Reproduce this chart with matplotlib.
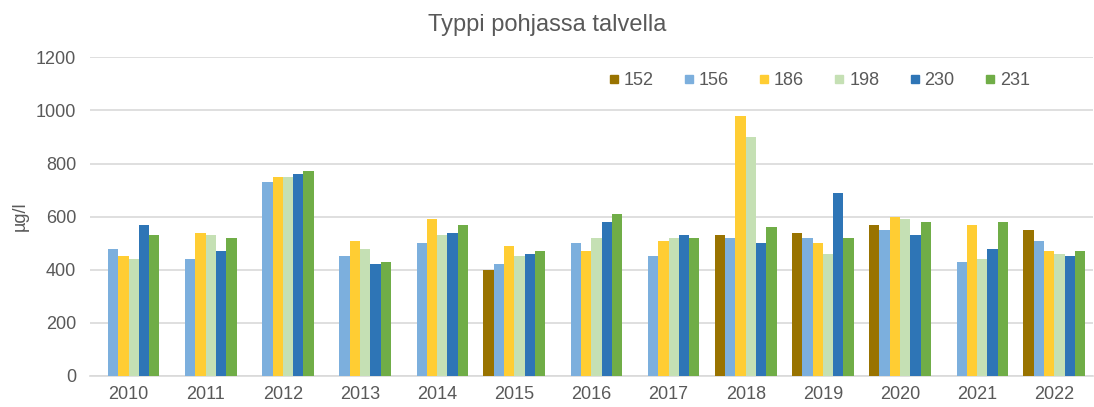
import matplotlib.pyplot as plt
from matplotlib.lines import Line2D
import numpy as np

# data (µg/l), NaN = no bar
years = ['2010', '2011', '2012', '2013', '2014', '2015', '2016',
         '2017', '2018', '2019', '2020', '2021', '2022']
sites = ['152', '156', '186', '198', '230', '231']
nan = np.nan
s152 = [nan, nan, nan, nan, nan, 400, nan, nan, 530, 540, 570, nan, 550]
s156 = [480, 440, 730, 450, 500, 420, 500, 450, 520, 520, 550, 430, 510]
s186 = [450, 540, 750, 510, 590, 490, 470, 510, 980, 500, 600, 570, 470]
s198 = [440, 530, 750, 480, 530, 450, 520, 520, 900, 460, 590, 440, 460]
s230 = [570, 470, 760, 420, 540, 460, 580, 530, 500, 690, 530, 480, 450]
s231 = [530, 520, 770, 430, 570, 470, 610, 520, 560, 520, 580, 580, 470]
series = [s152, s156, s186, s198, s230, s231]
colors = ['#997300', '#7CAFDD', '#FFCD33', '#C5E0B4', '#2E75B6', '#70AD47']

txt = '#595959'
plt.rcParams['font.family'] = ['Liberation Sans', 'DejaVu Sans']

fig = plt.figure(figsize=(10.94, 4.07), dpi=100)
ax = fig.add_axes([0.0823, 0.0762, 0.9167, 0.7830])

x = np.arange(len(years))
w = 0.8 / len(sites)
for i, (vals, c) in enumerate(zip(series, colors)):
    ax.bar(x + (i - 2.5) * w, vals, width=w, color=c, zorder=3)

ax.set_xlim(-0.5, len(years) - 0.5)
ax.set_ylim(0, 1200)
ax.set_yticks(np.arange(0, 1201, 200))
ax.set_xticks(x)
ax.set_xticklabels(years)
ax.tick_params(length=0, labelsize=13, colors=txt, pad=7)
ax.tick_params(axis='y', pad=10)
ax.grid(axis='y', color='#D9D9D9', linewidth=1.2, zorder=0)
for side in ['top', 'right', 'left']:
    ax.spines[side].set_visible(False)
ax.spines['bottom'].set_color('#D9D9D9')
ax.spines['bottom'].set_linewidth(1.2)

ax.set_ylabel('µg/l', fontsize=13, color=txt, labelpad=5)
fig.text(0.5, 0.939, 'Typpi pohjassa talvella', ha='center', va='center',
         fontsize=17, color=txt)

handles = [Line2D([], [], marker='s', linestyle='none', markersize=6,
                  markerfacecolor=c, markeredgecolor=c) for c in colors]
fig.legend(handles, sites, loc='center', bbox_to_anchor=(0.749, 0.801),
           ncol=6, frameon=False, fontsize=13, labelcolor=txt,
           handlelength=0.5, handletextpad=0.3, columnspacing=1.7)

fig.savefig('out.png', dpi=100)
